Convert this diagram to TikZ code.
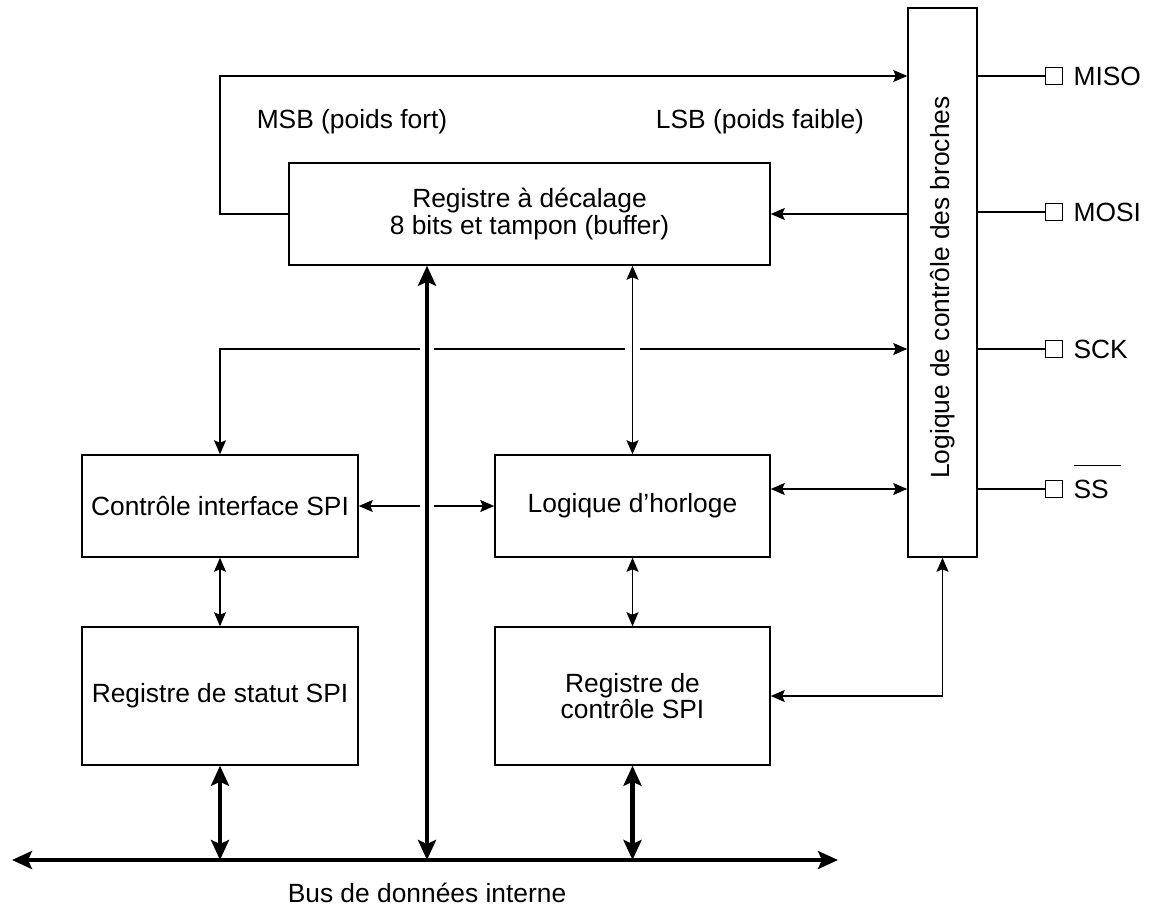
\documentclass[tikz,border=0pt]{standalone}
\usepackage{fontspec}
\setmainfont{Liberation Sans}
\usetikzlibrary{arrows.meta,positioning}

\begin{document}
\begin{tikzpicture}[
  blk/.style={draw,line width=0.85pt,align=center,inner sep=0pt},
  pinsq/.style={draw,line width=0.85pt,minimum size=3.4mm,inner sep=0pt},
  lbl/.style={inner sep=0pt},
  sig/.style={line width=0.85pt},
  bus/.style={line width=2.5pt,>={Stealth[length=4mm,width=3.6mm,inset=0.8mm]}},
  gap/.style={preaction={draw=white,line width=8pt,-,shorten <=14pt,shorten >=14pt}},
  >={Stealth[length=2.8mm,width=2.4mm,inset=0.5mm]},
  font=\fontsize{15}{15}\selectfont]
\useasboundingbox (0,0) rectangle (23,-18.3);
% blocks
\node[blk,minimum width=9.62cm,minimum height=2.04cm] (reg) at (10.59,-4.28) {Registre à décalage\\8 bits et tampon (buffer)};
\node[blk,minimum width=1.38cm,minimum height=10.98cm] (pinl) at (18.85,-5.65) {};
\node[lbl,rotate=90] (pinltxt) at ([yshift=-0.1cm]pinl.center) {Logique de contrôle des broches};
\node[blk,minimum width=5.52cm,minimum height=2.04cm] (ctl) at (4.4,-10.12) {Contrôle interface SPI};
\node[blk,minimum width=5.5cm,minimum height=2.04cm] (clk) at (12.65,-10.12) {Logique d’horloge};
\node[blk,minimum width=5.52cm,minimum height=2.76cm] (sta) at (4.4,-13.92) {Registre de statut SPI};
\node[blk,minimum width=5.5cm,minimum height=2.76cm] (cr) at (12.65,-13.92) {Registre de\\contrôle SPI};
% labels
\node[lbl] (msb) at (7.04,-2.44) {MSB (poids fort)};
\node[lbl] (lsb) at (15.2,-2.44) {LSB (poids faible)};
\node[lbl] (buslbl) at (8.54,-17.86) {Bus de données interne};
% lanes
\coordinate (yMiso) at (0,-1.52);
\coordinate (ySck) at (0,-6.98);
\coordinate (ySs) at (0,-9.78);
\coordinate (busL) at (0.24,-17.2);
\coordinate (busR) at (16.76,-17.2);
\coordinate (dbus) at (8.54,-17.2);
% pins
\node[pinsq] (pmiso) at (21.08,-1.52) {};
\node[pinsq] (pmosi) at (21.08,-4.24) {};
\node[pinsq] (psck) at (21.08,-6.98) {};
\node[pinsq] (pss) at (21.08,-9.78) {};
\node[lbl,right=0.2 of pmiso] (lmiso) {MISO};
\node[lbl,right=0.2 of pmosi] (lmosi) {MOSI};
\node[lbl,right=0.2 of psck] (lsck) {SCK};
\node[lbl,right=0.2 of pss,anchor=base west,yshift=-0.19cm] (lss) {$\overline{\rule{0pt}{6.2mm}\mbox{SS}\hspace{2.5mm}}$};
\draw[sig] (pinl.east |- pmiso) -- (pmiso);
\draw[sig] (pinl.east |- pmosi) -- (pmosi);
\draw[sig] (pinl.east |- psck) -- (psck);
\draw[sig] (pinl.east |- pss) -- (pss);
% connections
\draw[sig,->] (reg.west) -- (reg.west -| ctl.north) |- (pinl.west |- yMiso);
\draw[sig,->] (pinl.west |- reg.east) -- (reg.east);
\draw[sig,<->] (pinl.west |- ySck) -| (ctl.north);
\draw[sig,<->] (ctl.east) -- (clk.west);
\draw[sig,<->] (clk.east |- ySs) -- (pinl.west |- ySs);
\draw[sig,gap,<->] (clk.north |- reg.south) -- (clk.north);
\draw[sig,<->] (ctl.south) -- (sta.north);
\draw[sig,<->] (clk.south) -- (cr.north);
\draw[sig,<->] (pinl.south) |- (cr.east);
\draw[bus,gap,<->] (reg.south -| dbus) -- (dbus);
\draw[bus,<->] (busL) -- (busR);
\draw[bus,<->] (sta.south) -- (sta.south |- busL);
\draw[bus,<->] (cr.south) -- (cr.south |- busL);
\end{tikzpicture}
\end{document}
